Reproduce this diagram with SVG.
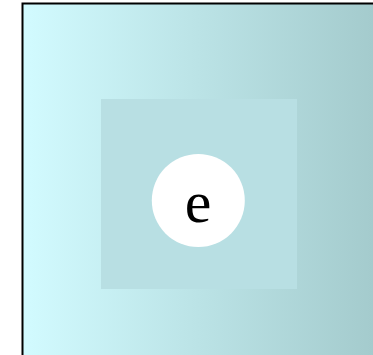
<svg xmlns="http://www.w3.org/2000/svg" width="373" height="355" viewBox="0 0 373 355">
<defs>
<linearGradient id="bg" x1="22" y1="0" x2="373" y2="0" gradientUnits="userSpaceOnUse">
<stop offset="0" stop-color="#d2fbff"/>
<stop offset="1" stop-color="#a4cbcd"/>
</linearGradient>
<style>
.lbl{font-family:"Liberation Serif","Times New Roman",serif;font-size:60px;fill:#000;text-anchor:middle}
</style>
</defs>
<rect x="22.5" y="3.5" width="400" height="400" fill="url(#bg)" stroke="#000" stroke-width="2"/>
<g id="cluster">
<rect x="101" y="99" width="196" height="190" fill="#b8dfe3"/>
</g>
<g id="connectors"></g>
<g id="e">
<circle cx="198.3" cy="200.5" r="46.5" fill="#fff"/>
<text class="lbl" x="198" y="222">e</text>
</g>
</svg>
